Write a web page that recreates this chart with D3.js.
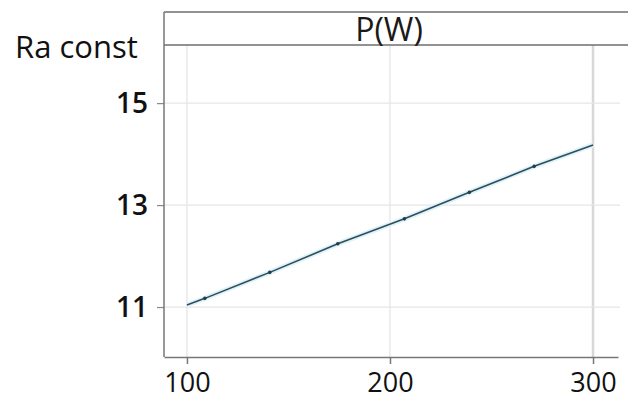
<!DOCTYPE html>
<html>
<head>
<meta charset="utf-8">
<script src="https://cdn.jsdelivr.net/npm/d3@7"></script>
<style>
  body { margin: 0; background: #fff; }
  svg { display: block; font-family: "Open Sans", "Noto Sans", sans-serif; }
</style>
</head>
<body>
<div id="chart"></div>
<script>
var svgWidth = 628;
var svgHeight = 404;

// fitted main effect line
var powerW = [100, 108.8, 140.8, 174.3, 207.1, 239.1, 271, 300];
var raConst = [11.04, 11.17, 11.68, 12.24, 12.73, 13.25, 13.76, 14.18];
var xTicks = [100, 200, 300];
var yTicks = [11, 13, 15];
var stripLabel = "P(W)";
var yLabel = "Ra const";

var margin = { top: 45, right: 10, bottom: 47, left: 164 };
var stripTop = 12;
var width = svgWidth - margin.left - margin.right;
var height = svgHeight - margin.top - margin.bottom;

var svg = d3.select("#chart")
  .append("svg")
  .attr("width", svgWidth)
  .attr("height", svgHeight);

var x = d3.scaleLinear()
  .domain([88.7, 312.3])
  .range([margin.left, margin.left + width]);

var y = d3.scaleLinear()
  .domain([10.02, 16.14])
  .range([margin.top + height, margin.top]);

// gridlines
svg.append("g")
  .selectAll("line.vg")
  .data(xTicks)
  .enter()
  .append("line")
  .attr("x1", d => x(d))
  .attr("x2", d => x(d))
  .attr("y1", margin.top)
  .attr("y2", margin.top + height)
  .attr("stroke", (d, i) => i == xTicks.length - 1 ? "#d8d8d8" : "#e6e6e6")
  .attr("stroke-width", (d, i) => i == xTicks.length - 1 ? 2.5 : 1.3);

svg.append("g")
  .selectAll("line.hg")
  .data(yTicks)
  .enter()
  .append("line")
  .attr("x1", margin.left)
  .attr("x2", margin.left + width + 2)
  .attr("y1", d => y(d))
  .attr("y2", d => y(d))
  .attr("stroke", "#e6e6e6")
  .attr("stroke-width", 1.3);

// strip on top
svg.append("line")
  .attr("x1", margin.left).attr("x2", svgWidth)
  .attr("y1", stripTop).attr("y2", stripTop)
  .attr("stroke", "#6e6e6e").attr("stroke-width", 1.5);
svg.append("line")
  .attr("x1", margin.left).attr("x2", svgWidth)
  .attr("y1", margin.top).attr("y2", margin.top)
  .attr("stroke", "#6e6e6e").attr("stroke-width", 1.5);
svg.append("text")
  .attr("x", 389)
  .attr("y", 41)
  .attr("text-anchor", "middle")
  .attr("font-size", 32)
  .attr("fill", "#1a1a1a")
  .text(stripLabel);

// axes
var bottomAxis = d3.axisBottom(x).tickValues(xTicks).tickFormat(d3.format("d"))
  .tickSize(7).tickPadding(9).tickSizeOuter(0);
var leftAxis = d3.axisLeft(y).tickValues(yTicks).tickFormat(d3.format("d"))
  .tickSize(7).tickPadding(9).tickSizeOuter(0);

var xAxis = svg.append("g")
  .attr("transform", `translate(0, ${margin.top + height})`)
  .call(bottomAxis);
xAxis.select(".domain").attr("stroke", "#777").attr("stroke-width", 1.5);
xAxis.selectAll(".tick line").attr("stroke", "#777").attr("stroke-width", 1.5);
xAxis.selectAll(".tick text")
  .attr("font-size", 27)
  .attr("fill", "#111")
  .attr("font-family", "'Open Sans', sans-serif");

var yAxis = svg.append("g")
  .attr("transform", `translate(${margin.left}, 0)`)
  .call(leftAxis);
yAxis.select(".domain").remove();
yAxis.selectAll(".tick line").attr("stroke", "#888").attr("stroke-width", 1.2);
yAxis.selectAll(".tick text")
  .attr("font-size", 28)
  .attr("font-weight", 600)
  .attr("fill", "#111")
  .attr("font-family", "'Open Sans', sans-serif");

// left border runs from strip top down to the x axis
svg.append("line")
  .attr("x1", margin.left).attr("x2", margin.left)
  .attr("y1", stripTop).attr("y2", margin.top + height)
  .attr("stroke", "#777").attr("stroke-width", 1.5);

svg.append("text")
  .attr("x", 15)
  .attr("y", 58)
  .attr("font-size", 31)
  .attr("fill", "#111")
  .text(yLabel);

// the line
var pts = powerW.map((d, i) => [d, raConst[i]]);
var line = d3.line().x(d => x(d[0])).y(d => y(d[1]));

svg.append("path")
  .datum(pts)
  .attr("d", line)
  .attr("fill", "none")
  .attr("stroke", "#dff2fa")
  .attr("stroke-width", 5);

svg.append("path")
  .datum(pts)
  .attr("d", line)
  .attr("fill", "none")
  .attr("stroke", "#2d4f5c")
  .attr("stroke-width", 1.6);

svg.append("g")
  .selectAll("circle")
  .data(pts.slice(1, pts.length - 1))
  .enter()
  .append("circle")
  .attr("cx", d => x(d[0]))
  .attr("cy", d => y(d[1]))
  .attr("r", 1.8)
  .attr("fill", "#243f4a");
</script>
</body>
</html>
